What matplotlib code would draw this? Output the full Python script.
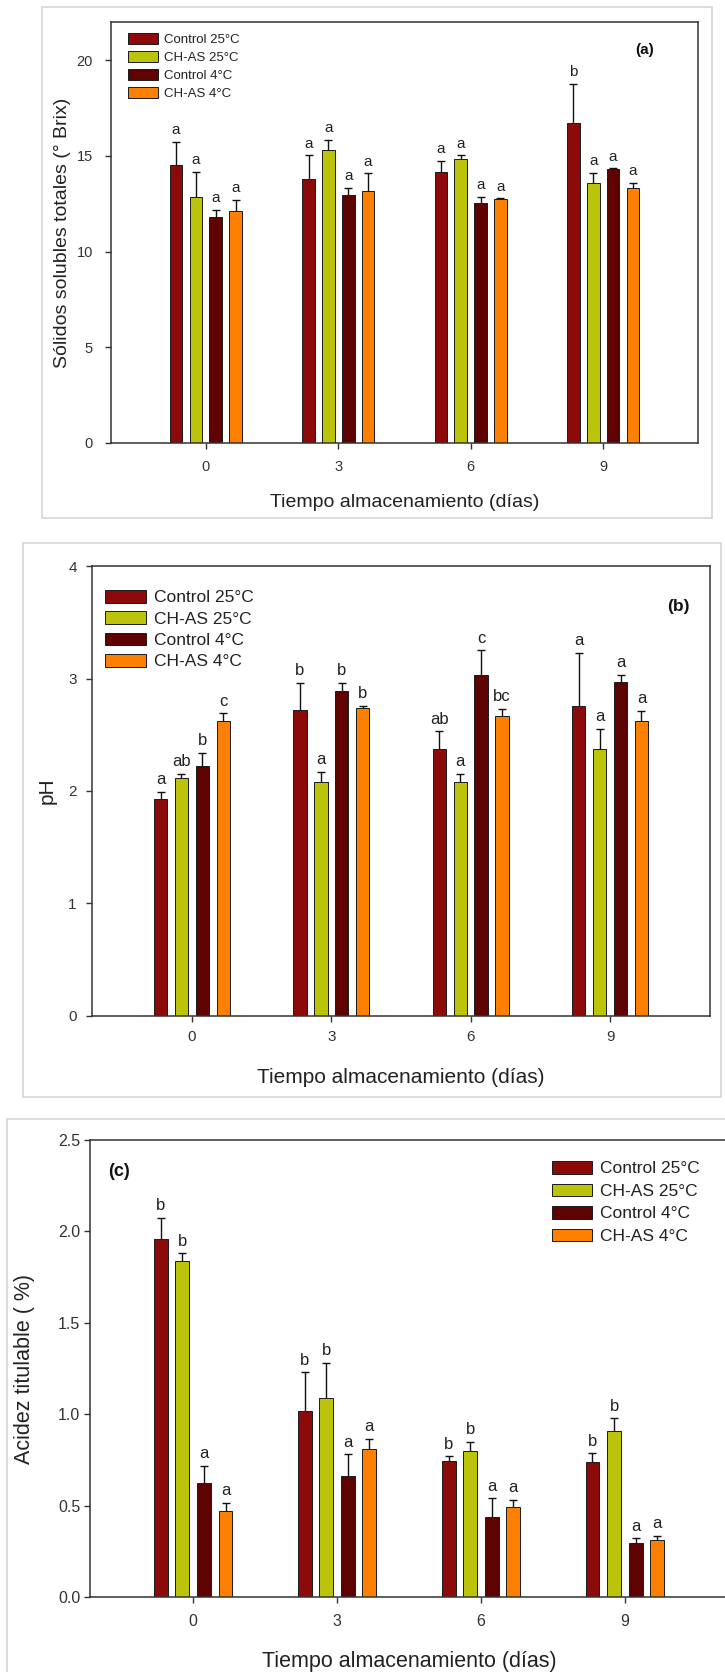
import matplotlib
matplotlib.use("Agg")
import matplotlib.pyplot as plt
from matplotlib.patches import Patch, Rectangle
import numpy as np

plt.rcParams['font.family'] = ['Liberation Sans', 'DejaVu Sans']

# ---------------- data ----------------
days = [0, 3, 6, 9]
series = ['Control 25°C', 'CH-AS 25°C', 'Control 4°C', 'CH-AS 4°C']
colors = ['#8C0A0A', '#BCC40A', '#5E0202', '#FF8000']

# (a) Sólidos solubles totales (°Brix)  rows = series, cols = days
sst_mean = [[14.52, 13.79, 14.14, 16.70],
            [12.83, 15.30, 14.82, 13.60],
            [11.83, 12.96, 12.56, 14.30],
            [12.12, 13.18, 12.73, 13.30]]
sst_err = [[1.22, 1.25, 0.59, 2.08],
           [1.34, 0.53, 0.22, 0.52],
           [0.34, 0.38, 0.31, 0.05],
           [0.58, 0.91, 0.05, 0.30]]
sst_letters = [['a', 'a', 'a', 'b'],
               ['a', 'a', 'a', 'a'],
               ['a', 'a', 'a', 'a'],
               ['a', 'a', 'a', 'a']]

# (b) pH
ph_mean = [[1.93, 2.72, 2.37, 2.76],
           [2.12, 2.08, 2.08, 2.37],
           [2.22, 2.89, 3.03, 2.97],
           [2.62, 2.74, 2.67, 2.62]]
ph_err = [[0.06, 0.24, 0.16, 0.47],
          [0.03, 0.09, 0.07, 0.18],
          [0.12, 0.07, 0.22, 0.06],
          [0.07, 0.02, 0.06, 0.09]]
ph_letters = [['a', 'b', 'ab', 'a'],
              ['ab', 'a', 'a', 'a'],
              ['b', 'b', 'c', 'a'],
              ['c', 'b', 'bc', 'a']]

# (c) Acidez titulable (%)
at_mean = [[1.96, 1.02, 0.745, 0.74],
           [1.84, 1.09, 0.80, 0.91],
           [0.625, 0.66, 0.44, 0.296],
           [0.472, 0.81, 0.49, 0.31]]
at_err = [[0.115, 0.21, 0.025, 0.046],
          [0.04, 0.19, 0.048, 0.068],
          [0.094, 0.12, 0.10, 0.025],
          [0.043, 0.056, 0.043, 0.026]]
at_letters = [['b', 'b', 'b', 'b'],
              ['b', 'b', 'b', 'b'],
              ['a', 'a', 'a', 'a'],
              ['a', 'a', 'a', 'a']]

xlabel = 'Tiempo almacenamiento (días)'

# ---------------- figure ----------------
W, H = 725, 1672
fig = plt.figure(figsize=(W / 100, H / 100), dpi=100)
fig.patch.set_facecolor('white')


def fbox(x0, y0, x1, y1):
    return [x0 / W, 1 - y1 / H, (x1 - x0) / W, (y1 - y0) / H]


def frame(x0, y0, x1, y1):
    fig.add_artist(Rectangle((x0 / W, 1 - y1 / H), (x1 - x0) / W, (y1 - y0) / H,
                             transform=fig.transFigure, fill=False,
                             edgecolor='#d6d6d6', lw=1.2))


offsets = [-0.675, -0.225, 0.225, 0.675]
bar_w = 0.29


def panel(rect, means, errs, letters, ylim, yticks, yticklabels, ylabel,
          sizes, label_coords, tick_pads, legend_anchor, tag, tag_pos):
    tick_fs, lab_fs, leg_fs, let_fs, tag_fs = sizes
    ax = fig.add_axes(fbox(*rect))
    x = np.array(days, dtype=float)
    for i, name in enumerate(series):
        xi = x + offsets[i]
        ax.bar(xi, means[i], width=bar_w, color=colors[i], edgecolor='#1a1a1a',
               linewidth=0.7, zorder=2)
        m = np.array(means[i])
        e = np.array(errs[i])
        _, caps, _ = ax.errorbar(xi, m, yerr=[np.zeros_like(e), e], fmt='none',
                                 ecolor='#111111', elinewidth=1.0, capsize=3.2,
                                 capthick=1.0, zorder=3)
        caps[0].set_visible(False)
        for xx, top, lt in zip(xi, m + e, letters[i]):
            ax.annotate(lt, (xx, top), xytext=(0, 5.5), textcoords='offset points',
                        ha='center', va='baseline', fontsize=let_fs, color='#222222')
    ax.set_xlim(-2.15, 11.15)
    ax.set_ylim(*ylim)
    ax.set_xticks(days)
    ax.set_xticklabels([str(d) for d in days])
    ax.set_yticks(yticks)
    ax.set_yticklabels(yticklabels)
    ax.tick_params(axis='both', direction='out', length=4, width=1.0,
                   colors='#333333', labelsize=tick_fs, top=False, right=False)
    ax.tick_params(axis='x', pad=tick_pads[0])
    ax.tick_params(axis='y', pad=tick_pads[1])
    for s in ax.spines.values():
        s.set_color('#333333')
        s.set_linewidth(1.1)
    ax.set_xlabel(xlabel, fontsize=lab_fs, color='#222222')
    ax.set_ylabel(ylabel, fontsize=lab_fs, color='#222222')
    ax.xaxis.label.set_verticalalignment('center')
    ax.yaxis.label.set_verticalalignment('center')
    ax.xaxis.set_label_coords(0.5, label_coords[0])
    ax.yaxis.set_label_coords(label_coords[1], 0.5)
    handles = [Patch(facecolor=c, edgecolor='#1a1a1a', linewidth=0.7) for c in colors]
    ax.legend(handles, series, loc='upper left',
              bbox_to_anchor=(legend_anchor[0] / W, 1 - legend_anchor[1] / H),
              bbox_transform=fig.transFigure, frameon=False, fontsize=leg_fs,
              borderpad=0, borderaxespad=0, handlelength=legend_anchor[2],
              handleheight=legend_anchor[3], handletextpad=0.45,
              labelspacing=legend_anchor[4], labelcolor='#222222')
    fig.text(tag_pos[0] / W, 1 - tag_pos[1] / H, tag, fontsize=tag_fs,
             fontweight='bold', ha='center', va='center', color='#111111')
    return ax


# panel frames
frame(42, 7, 712, 518)
frame(23, 543, 721, 1097)
frame(7, 1119, 740, 1690)

# (a)
panel((111, 22, 698, 443), sst_mean, sst_err, sst_letters,
      (0, 22), [0, 5, 10, 15, 20], ['0', '5', '10', '15', '20'],
      'Sólidos solubles totales (° Brix)',
      (10.5, 14, 9.5, 11, 11), (-0.1425, -0.083), (8.5, 9.0),
      (128, 33, 2.3, 0.85, 0.40), '(a)', (645, 50))

# (b)
panel((92, 566, 710, 1016), ph_mean, ph_err, ph_letters,
      (0, 4), [0, 1, 2, 3, 4], ['0', '1', '2', '3', '4'],
      'pH',
      (11, 15, 12.5, 12, 12.5), (-0.1356, -0.073), (6.0, 7.0),
      (105, 590, 2.35, 0.75, 0.34), '(b)', (678, 606))

# (c)
panel((90, 1140, 728, 1597), at_mean, at_err, at_letters,
      (0, 2.5), [0, 0.5, 1.0, 1.5, 2.0, 2.5], ['0.0', '0.5', '1.0', '1.5', '2.0', '2.5'],
      'Acidez titulable ( %)',
      (11.5, 15.5, 12.5, 12, 13), (-0.142, -0.102), (8.5, 3.0),
      (552, 1161, 2.3, 0.75, 0.41), '(c)', (119, 1171))

fig.savefig('out.png', dpi=100, facecolor='white')
